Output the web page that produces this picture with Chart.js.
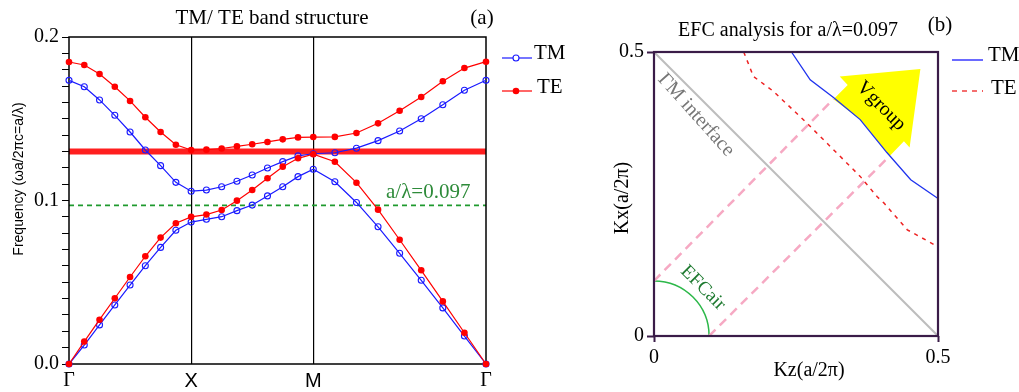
<!DOCTYPE html>
<html>
<head>
<meta charset="utf-8">
<script src="https://cdn.jsdelivr.net/npm/chart.js@4.4.0/dist/chart.umd.min.js"></script>
<style>
  html, body { margin: 0; padding: 0; background: #fff; }
  #wrap { position: relative; width: 1019px; height: 392px; overflow: hidden; }
  #bandChart { position: absolute; left: 0; top: 0; }
  #efcChart { position: absolute; left: 590px; top: 0; }
</style>
</head>
<body>
<div id="wrap">
  <canvas id="bandChart" width="590" height="392"></canvas>
  <canvas id="efcChart" width="429" height="392"></canvas>
</div>
<script>
// ---- (a) band structure data: k along Γ-X-M-Γ, 8 steps per segment
const kPath = [0, 0.125, 0.25, 0.375, 0.5, 0.625, 0.75, 0.875, 1,
               1.125, 1.25, 1.375, 1.5, 1.625, 1.75, 1.875, 2,
               2.1768, 2.3536, 2.5303, 2.7071, 2.8839, 3.0607, 3.2374, 3.4142];
const kTicks = [0, 1, 2, 3.4142];
const kLabels = ['Γ', 'X', 'M', 'Γ'];

const tmBand1 = [0, 0.0116, 0.0239, 0.0361, 0.0483, 0.0601, 0.0713, 0.0818, 0.0868,
                 0.0885, 0.0901, 0.0938, 0.0972, 0.1028, 0.1084, 0.1146, 0.1191,
                 0.1115, 0.0988, 0.0839, 0.0677, 0.0512, 0.0343, 0.0171, 0];
const tmBand2 = [0.1735, 0.1696, 0.1615, 0.1521, 0.1419, 0.1309, 0.1213, 0.1111, 0.1057,
                 0.1064, 0.1084, 0.1118, 0.1156, 0.1199, 0.1238, 0.1273, 0.1286,
                 0.1292, 0.1320, 0.1366, 0.1425, 0.1500, 0.1586, 0.1674, 0.1735];
const teBand1 = [0, 0.0137, 0.0271, 0.0402, 0.0532, 0.0659, 0.0773, 0.0861, 0.0900,
                 0.0914, 0.0942, 0.0999, 0.1064, 0.1136, 0.1207, 0.1258, 0.1283,
                 0.1237, 0.1109, 0.0944, 0.0760, 0.0573, 0.0383, 0.0191, 0];
const teBand2 = [0.1847, 0.1829, 0.1774, 0.1696, 0.1609, 0.1509, 0.1419, 0.1341, 0.1309,
                 0.1311, 0.1318, 0.1331, 0.1344, 0.1358, 0.1374, 0.1386, 0.1388,
                 0.1389, 0.1413, 0.1472, 0.1549, 0.1633, 0.1729, 0.1810, 0.1849];
const gapEdge = 0.13;
const workFreq = 0.097;

// ---- (b) EFC data (Kz, Kx in units of 2π/a)
const tmEfcKz = [0.242, 0.275, 0.316, 0.363, 0.410, 0.452, 0.5];
const tmEfcKx = [0.5, 0.451, 0.420, 0.381, 0.323, 0.275, 0.242];
const teEfcKz = [0.158, 0.175, 0.210, 0.269, 0.316, 0.363, 0.393, 0.405, 0.446, 0.5];
const teEfcKx = [0.5, 0.457, 0.431, 0.375, 0.328, 0.281, 0.245, 0.234, 0.187, 0.157];
const interfaceKz = [0, 0.5];
const interfaceKx = [0.5, 0];
const rayUpKz = [0, 0.316];
const rayUpKx = [0.097, 0.417];
const rayLowKz = [0.097, 0.415];
const rayLowKx = [0, 0.317];
const arrowKz = [0.316, 0.341, 0.327, 0.469, 0.450, 0.440, 0.415, 0.363];
const arrowKx = [0.417, 0.442, 0.457, 0.470, 0.332, 0.343, 0.317, 0.381];
const airRadius = 0.097;

const SERIF = '"Liberation Serif", "Times New Roman", serif';
const SANS = '"Liberation Sans", Arial, sans-serif';
const BLUE = '#1a1aff';
const RED = '#ff0000';
const PURPLE = '#3a1c48';

function pts(xs, ys) {
  return xs.map((v, i) => ({ x: v, y: ys[i] }));
}

function bandSet(values, color, filled) {
  return {
    data: pts(kPath, values),
    showLine: true,
    borderColor: color,
    borderWidth: 1.2,
    pointRadius: filled ? 3.3 : 3,
    pointBorderWidth: filled ? 0 : 1.1,
    pointBorderColor: color,
    pointBackgroundColor: filled ? color : 'rgba(0,0,0,0)',
    clip: false
  };
}

function text(ctx, str, x, y, font, color, align, angle) {
  ctx.save();
  ctx.font = font;
  ctx.fillStyle = color;
  ctx.textAlign = align || 'center';
  ctx.textBaseline = 'middle';
  ctx.translate(x, y);
  if (angle) ctx.rotate(angle);
  ctx.fillText(str, 0, 0);
  ctx.restore();
}

function hline(ctx, x1, x2, y) {
  ctx.beginPath();
  ctx.moveTo(x1, y);
  ctx.lineTo(x2, y);
  ctx.stroke();
}

const bandDecor = {
  id: 'bandDecor',
  beforeDatasetsDraw(chart) {
    const { ctx, chartArea: a, scales: { y } } = chart;
    ctx.save();
    ctx.strokeStyle = 'rgba(255,0,0,0.88)';
    ctx.lineWidth = 6;
    hline(ctx, a.left, a.right, y.getPixelForValue(gapEdge));

    ctx.strokeStyle = '#1f9a2e';
    ctx.lineWidth = 1.8;
    ctx.setLineDash([5, 4]);
    hline(ctx, a.left, a.right, y.getPixelForValue(workFreq));
    ctx.setLineDash([]);

    ctx.strokeStyle = '#000';
    ctx.lineWidth = 1.5;
    ctx.strokeRect(a.left, a.top, a.right - a.left, a.bottom - a.top);
    ctx.restore();
  },
  afterDraw(chart) {
    const { ctx, scales: { y } } = chart;
    text(ctx, 'TM/ TE band structure', 272, 18, '21px ' + SERIF, '#000');
    text(ctx, '(a)', 482, 18, '21px ' + SERIF, '#000');
    text(ctx, 'Frequency (ωa/2πc=a/λ)', 19, 179, '14px ' + SANS, '#000', 'center', -Math.PI / 2);
    text(ctx, 'a/λ=0.097', 386, y.getPixelForValue(workFreq) - 13, '21px ' + SERIF, '#2e8b3a', 'left');

    // legend
    ctx.save();
    ctx.lineWidth = 1.2;
    ctx.strokeStyle = BLUE;
    hline(ctx, 502, 532, 58);
    ctx.beginPath();
    ctx.arc(516, 58, 3, 0, Math.PI * 2);
    ctx.fillStyle = '#fff';
    ctx.fill();
    ctx.lineWidth = 1.1;
    ctx.stroke();
    ctx.strokeStyle = RED;
    ctx.lineWidth = 1.2;
    hline(ctx, 502, 532, 91);
    ctx.beginPath();
    ctx.arc(516, 91, 3.3, 0, Math.PI * 2);
    ctx.fillStyle = RED;
    ctx.fill();
    ctx.restore();
    text(ctx, 'TM', 534, 53, '21px ' + SERIF, '#000', 'left');
    text(ctx, 'TE', 537, 87, '21px ' + SERIF, '#000', 'left');
  }
};

new Chart(document.getElementById('bandChart'), {
  type: 'scatter',
  data: {
    datasets: [
      bandSet(teBand1, RED, true),
      bandSet(teBand2, RED, true),
      bandSet(tmBand1, BLUE, false),
      bandSet(tmBand2, BLUE, false)
    ]
  },
  options: {
    responsive: false,
    animation: false,
    devicePixelRatio: 1,
    layout: { padding: { left: 0, right: 104, top: 37, bottom: 0 } },
    plugins: { legend: { display: false }, tooltip: { enabled: false } },
    scales: {
      x: {
        type: 'linear',
        min: 0,
        max: 3.4142,
        afterBuildTicks: s => { s.ticks = kTicks.map(v => ({ value: v })); },
        afterFit: s => { s.height = 28; },
        ticks: {
          autoSkip: false,
          maxRotation: 0,
          padding: 5,
          color: '#000',
          font: c => ({ family: kLabels[c.index] === 'Γ' ? SERIF : SANS, size: 20 }),
          callback: (v, i) => kLabels[i]
        },
        grid: {
          drawTicks: false,
          lineWidth: 1.2,
          color: c => (c.index === 1 || c.index === 2) ? '#000' : 'rgba(0,0,0,0)'
        },
        border: { display: false }
      },
      y: {
        min: 0,
        max: 0.2,
        afterFit: s => { s.width = 69; },
        ticks: {
          stepSize: 0.01,
          autoSkip: false,
          padding: 3,
          color: '#000',
          font: { family: SERIF, size: 20 },
          callback: v => {
            const t = Math.round(v * 100);
            return t % 10 === 0 ? (t / 100).toFixed(1) : '';
          }
        },
        grid: { drawOnChartArea: false, tickLength: 7, tickColor: '#000', tickWidth: 1 },
        border: { display: false }
      }
    }
  },
  plugins: [bandDecor]
});

// ---- (b) EFC chart
const efcDecor = {
  id: 'efcDecor',
  beforeDatasetsDraw(chart) {
    const { ctx, scales: { x, y } } = chart;
    ctx.save();
    // group velocity arrow
    ctx.fillStyle = '#ffff00';
    ctx.beginPath();
    arrowKz.forEach((v, i) => {
      const px = x.getPixelForValue(v), py = y.getPixelForValue(arrowKx[i]);
      if (i === 0) ctx.moveTo(px, py); else ctx.lineTo(px, py);
    });
    ctx.closePath();
    ctx.fill();
    // air EFC
    const cx = x.getPixelForValue(0), cy = y.getPixelForValue(0);
    const rx = x.getPixelForValue(airRadius) - cx, ry = cy - y.getPixelForValue(airRadius);
    ctx.strokeStyle = '#2db84a';
    ctx.lineWidth = 1.5;
    ctx.beginPath();
    ctx.ellipse(cx, cy, rx, ry, 0, -Math.PI / 2, 0);
    ctx.stroke();
    ctx.restore();
  },
  afterDatasetsDraw(chart) {
    const { ctx, chartArea: a } = chart;
    ctx.save();
    ctx.strokeStyle = PURPLE;
    ctx.lineWidth = 2.2;
    ctx.strokeRect(a.left, a.top, a.right - a.left, a.bottom - a.top);
    ctx.restore();
  },
  afterDraw(chart) {
    const { ctx } = chart;
    text(ctx, 'EFC analysis for a/λ=0.097', 198, 31, '20px ' + SERIF, '#000');
    text(ctx, '(b)', 350, 25, '21px ' + SERIF, '#000');
    text(ctx, 'ΓM interface', 106, 115, '20px ' + SERIF, '#777', 'center', 0.84);
    text(ctx, 'Vgroup', 291, 106, '20px ' + SERIF, '#000', 'center', Math.PI / 4);
    text(ctx, 'EFCair', 113, 288, '19px ' + SERIF, '#1e7a30', 'center', Math.PI / 4);
    text(ctx, 'Kz(a/2π)', 219, 371, '20px ' + SERIF, '#000');
    text(ctx, 'Kx(a/2π)', 33, 198, '20px ' + SERIF, '#000', 'center', -Math.PI / 2);

    ctx.save();
    ctx.strokeStyle = BLUE;
    ctx.lineWidth = 1.3;
    hline(ctx, 362, 393, 60);
    ctx.strokeStyle = '#ee2222';
    ctx.setLineDash([5, 5]);
    hline(ctx, 362, 393, 91);
    ctx.restore();
    text(ctx, 'TM', 398, 55, '21px ' + SERIF, '#000', 'left');
    text(ctx, 'TE', 401, 88, '21px ' + SERIF, '#000', 'left');
  }
};

function lineSet(xs, ys, color, width, dash) {
  return {
    data: pts(xs, ys),
    showLine: true,
    borderColor: color,
    borderWidth: width,
    borderDash: dash || [],
    pointRadius: 0,
    fill: false
  };
}

new Chart(document.getElementById('efcChart'), {
  type: 'scatter',
  data: {
    datasets: [
      lineSet(tmEfcKz, tmEfcKx, '#1f33ee', 1.3),
      lineSet(teEfcKz, teEfcKx, '#ee2222', 1.5, [4, 5]),
      lineSet(interfaceKz, interfaceKx, '#bdbdbd', 2),
      lineSet(rayUpKz, rayUpKx, '#f6a9c3', 2.5, [9, 6]),
      lineSet(rayLowKz, rayLowKx, '#f6a9c3', 2.5, [9, 6])
    ]
  },
  options: {
    responsive: false,
    animation: false,
    devicePixelRatio: 1,
    layout: { padding: { left: 0, right: 81, top: 52, bottom: 0 } },
    plugins: { legend: { display: false }, tooltip: { enabled: false } },
    scales: {
      x: {
        type: 'linear',
        min: 0,
        max: 0.5,
        afterFit: s => { s.height = 56; },
        ticks: { stepSize: 0.5, padding: 4, color: '#000', font: { family: SERIF, size: 20 }, maxRotation: 0 },
        grid: { drawOnChartArea: false, tickLength: 6, tickColor: PURPLE, tickWidth: 2 },
        border: { display: false }
      },
      y: {
        min: 0,
        max: 0.5,
        afterFit: s => { s.width = 64; },
        ticks: { stepSize: 0.5, padding: 3, color: '#000', font: { family: SERIF, size: 20 } },
        grid: { drawOnChartArea: false, tickLength: 7, tickColor: PURPLE, tickWidth: 2 },
        border: { display: false }
      }
    }
  },
  plugins: [efcDecor]
});
</script>
</body>
</html>
